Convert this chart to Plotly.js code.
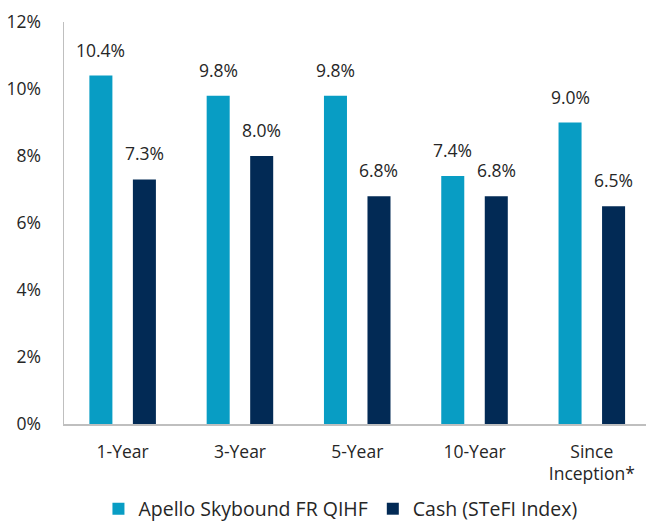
<!DOCTYPE html>
<html>
<head>
<meta charset="utf-8">
<script src="https://cdn.plot.ly/plotly-3.0.1.min.js"></script>
<style>html,body{margin:0;padding:0;background:#fff;}#chart{width:646px;height:521px;}</style>
</head>
<body>
<div id="chart"></div>
<script>
const categories = ["1-Year", "3-Year", "5-Year", "10-Year", "Since<br>Inception*"];
const fundName = "Apello Skybound FR QIHF";
const cashName = "Cash (STeFI Index)";
const fundValues = [10.4, 9.8, 9.8, 7.4, 9.0];
const cashValues = [7.3, 8.0, 6.8, 6.8, 6.5];
const yTickVals = [0, 2, 4, 6, 8, 10, 12];
const yTickText = ["0%", "2%", "4%", "6%", "8%", "10%", "12%"];

const txtColor = "#262626";
const fontFamily = "Open Sans, sans-serif";

const traces = [
  {type: "bar", name: fundName, x: categories, y: fundValues,
   marker: {color: "#089DC4"}, hoverinfo: "none"},
  {type: "bar", name: cashName, x: categories, y: cashValues,
   marker: {color: "#022A55"}, hoverinfo: "none"}
];

const annotations = [];
fundValues.forEach((v, i) => annotations.push({
  x: categories[i], y: v, xref: "x", yref: "y", text: v.toFixed(1) + "%",
  showarrow: false, xanchor: "center", yanchor: "bottom", xshift: -21.75, yshift: 12,
  font: {size: 17.5, color: txtColor, family: fontFamily}
}));
cashValues.forEach((v, i) => annotations.push({
  x: categories[i], y: v, xref: "x", yref: "y", text: v.toFixed(1) + "%",
  showarrow: false, xanchor: "center", yanchor: "bottom", xshift: 21.75, yshift: 12,
  font: {size: 17.5, color: txtColor, family: fontFamily}
}));

const layout = {
  width: 646, height: 521,
  margin: {l: 64, r: 0, t: 22, b: 97, autoexpand: false},
  paper_bgcolor: "#fff", plot_bgcolor: "#fff",
  font: {family: fontFamily, size: 17.5, color: txtColor},
  barmode: "group", bargap: 0.258, bargroupgap: 0.471,
  showlegend: true,
  legend: {orientation: "h", x: 0.475, xanchor: "center", y: -0.163, yanchor: "top",
           font: {size: 19.5, color: txtColor}, itemclick: false, tracegroupgap: 0},
  xaxis: {range: [-0.5, 4.462], showline: true, linecolor: "#bfbfbf", linewidth: 1.5,
          showgrid: false, zeroline: false, ticks: "", ticklabelstandoff: 11,
          tickfont: {size: 17.5, color: txtColor}, fixedrange: true, automargin: false},
  yaxis: {range: [0, 12], tickvals: yTickVals, ticktext: yTickText,
          showline: true, linecolor: "#bfbfbf", linewidth: 1.5,
          showgrid: false, zeroline: false, ticks: "", ticklabelstandoff: 18,
          tickfont: {size: 17.5, color: txtColor}, fixedrange: true, automargin: false},
  annotations: annotations
};

Plotly.newPlot("chart", traces, layout, {displayModeBar: false, staticPlot: true});
</script>
</body>
</html>
